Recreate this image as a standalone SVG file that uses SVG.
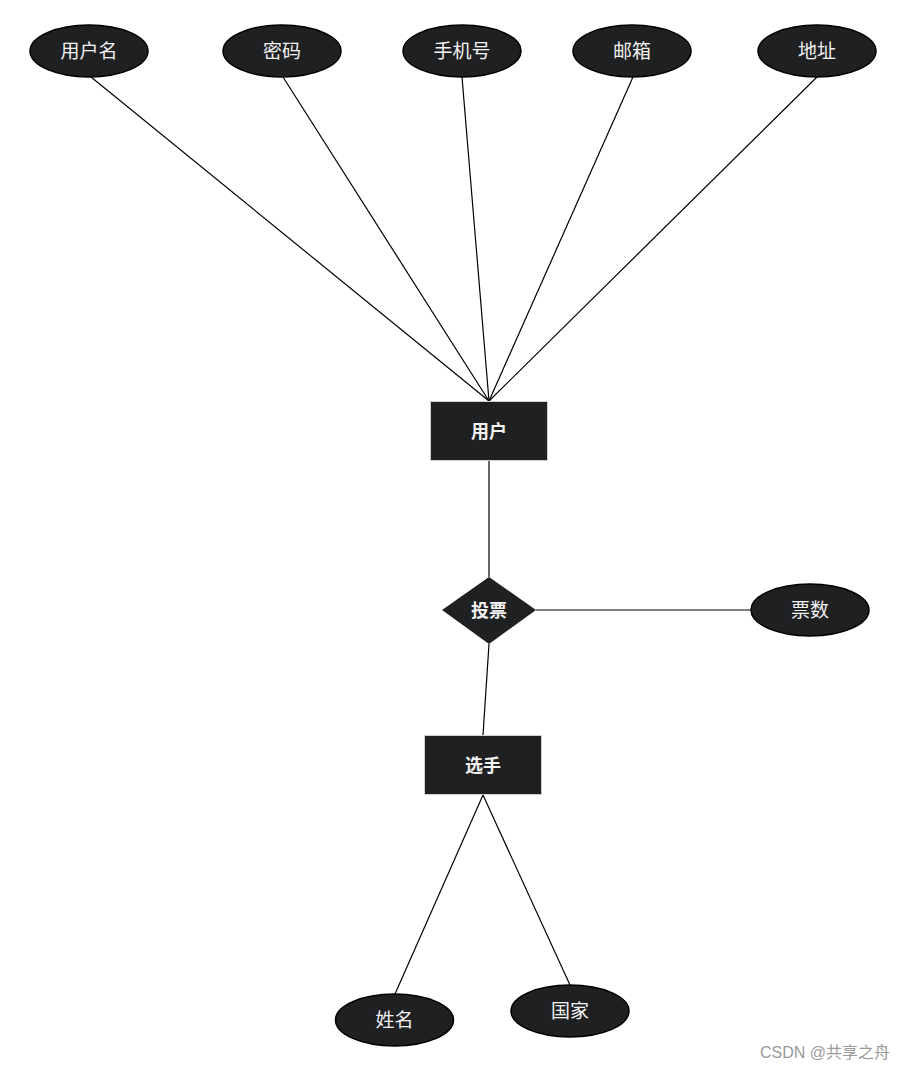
<svg xmlns="http://www.w3.org/2000/svg" width="907" height="1071" viewBox="0 0 907 1071">
<style>
.attr{fill:#1f2022;stroke:#000;stroke-width:1.5}
.ent{fill:#1f2022;stroke:#d0d0d0;stroke-width:1}
.t{fill:#f2f2f2;font-family:"Noto Sans CJK SC","Liberation Sans",sans-serif;font-size:19px;text-anchor:middle;dominant-baseline:central}
.b{font-weight:bold;font-size:18px}
.c{stroke:#000;stroke-width:1.2;fill:none}
</style>
<rect width="907" height="1071" fill="#fff"/>
<g id="connectors">
<line class="c" x1="91" y1="77" x2="489" y2="401"/>
<line class="c" x1="283" y1="77" x2="489" y2="401"/>
<line class="c" x1="462" y1="77" x2="489" y2="401"/>
<line class="c" x1="633" y1="77" x2="489" y2="401"/>
<line class="c" x1="817" y1="77" x2="489" y2="401"/>
<line class="c" x1="489" y1="461" x2="489" y2="577"/>
<line class="c" x1="536" y1="610" x2="751" y2="610"/>
<line class="c" x1="489" y1="644" x2="483" y2="735"/>
<line class="c" x1="483" y1="795" x2="395" y2="994"/>
<line class="c" x1="483" y1="795" x2="570" y2="985"/>
</g>
<g id="n-username"><ellipse class="attr" cx="89" cy="51" rx="59" ry="26"/><text class="t" x="89" y="49.5">用户名</text></g>
<g id="n-password"><ellipse class="attr" cx="282" cy="51" rx="59" ry="26"/><text class="t" x="282" y="49.5">密码</text></g>
<g id="n-phone"><ellipse class="attr" cx="462" cy="51" rx="59" ry="26"/><text class="t" x="462" y="49.5">手机号</text></g>
<g id="n-email"><ellipse class="attr" cx="632" cy="51" rx="59" ry="26"/><text class="t" x="632" y="49.5">邮箱</text></g>
<g id="n-address"><ellipse class="attr" cx="817" cy="51" rx="59" ry="26"/><text class="t" x="817" y="49.5">地址</text></g>
<g id="n-user"><rect class="ent" x="430.5" y="401.5" width="117" height="59"/><text class="t b" x="489" y="430">用户</text></g>
<g id="n-vote"><polygon fill="#1f2022" points="489,577 536,610 489,644 442,610"/><text class="t b" x="489" y="609">投票</text></g>
<g id="n-votes"><ellipse class="attr" cx="810" cy="610" rx="59" ry="26"/><text class="t" x="810" y="608.5">票数</text></g>
<g id="n-player"><rect class="ent" x="424.5" y="735.5" width="117" height="59"/><text class="t b" x="483" y="764">选手</text></g>
<g id="n-name"><ellipse class="attr" cx="394.5" cy="1020" rx="59" ry="26"/><text class="t" x="394.5" y="1018.5">姓名</text></g>
<g id="n-country"><ellipse class="attr" cx="570" cy="1011" rx="59" ry="26"/><text class="t" x="570" y="1009.5">国家</text></g>
<text x="890" y="1058" fill="#9a9a9a" font-family="'Liberation Sans','Noto Sans CJK SC',sans-serif" font-size="16" text-anchor="end">CSDN @共享之舟</text>
</svg>
